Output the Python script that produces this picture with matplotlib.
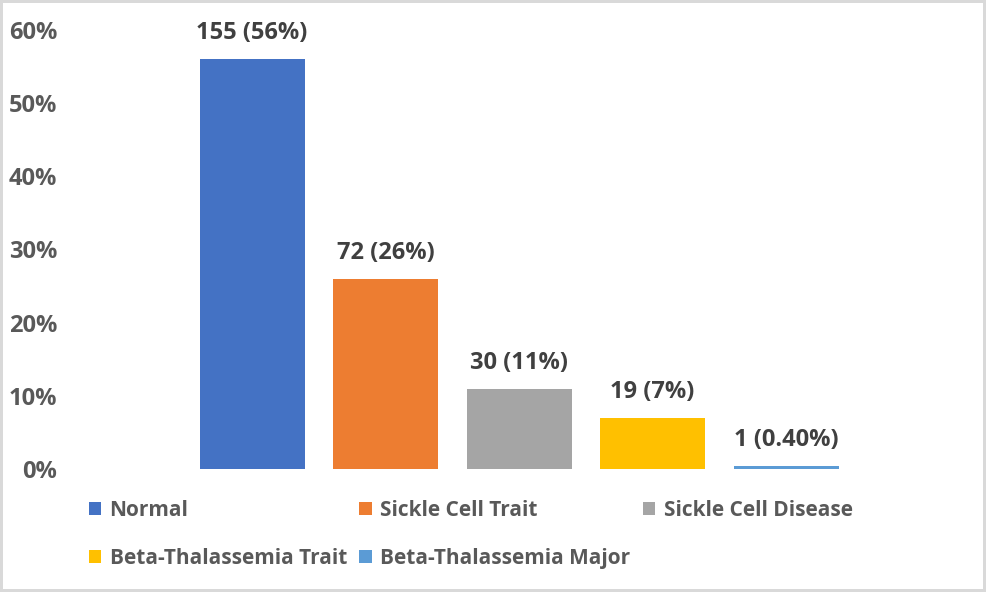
import matplotlib.pyplot as plt

# data
groups = ["Normal", "Sickle Cell Trait", "Sickle Cell Disease",
          "Beta-Thalassemia Trait", "Beta-Thalassemia Major"]
percent = [56, 26, 11, 7, 0.4]
labels = ["155 (56%)", "72 (26%)", "30 (11%)", "19 (7%)", "1 (0.40%)"]
colors = ["#4472C4", "#ED7D31", "#A5A5A5", "#FFC000", "#5B9BD5"]
yticks = [0, 10, 20, 30, 40, 50, 60]

plt.rcParams['font.family'] = ['Open Sans', 'DejaVu Sans']
plt.rcParams['font.weight'] = 'bold'

fig = plt.figure(figsize=(9.86, 5.92), dpi=100)
fig.patch.set_edgecolor('#D9D9D9')
fig.patch.set_linewidth(3)
ax = fig.add_axes([0.065, 0.2078, 0.924, 0.7415])

handles = []
for i in range(len(groups)):
    b = ax.bar(i, percent[i], width=0.787, color=colors[i], label=groups[i])
    ax.bar_label(b, labels=[labels[i]], padding=10, fontsize=17,
                 fontweight='bold', color='#404040')
    handles.append(b)

ax.set_xlim(-1.408, 5.416)
ax.set_ylim(0, 60)
ax.set_xticks([])
ax.set_yticks(yticks)
ax.set_yticklabels([str(t) + "%" for t in yticks], fontsize=17,
                   fontweight='bold', color='#595959')
ax.tick_params(axis='y', length=0, pad=5)
for s in ax.spines.values():
    s.set_visible(False)

# legend reads row by row in the reference, matplotlib fills by column
order = [0, 3, 1, 4, 2]
leg = fig.legend([handles[k] for k in order], [groups[k] for k in order],
                 ncol=3, loc='upper left', bbox_to_anchor=(0.090, 0.156),
                 frameon=False, fontsize=15, handlelength=0.6, handleheight=0.6,
                 handletextpad=0.4, columnspacing=0.6, labelspacing=1.3,
                 borderpad=0, borderaxespad=0)
for t in leg.get_texts():
    t.set_color('#595959')
    t.set_fontweight('bold')

plt.savefig('out.png', dpi=100)
